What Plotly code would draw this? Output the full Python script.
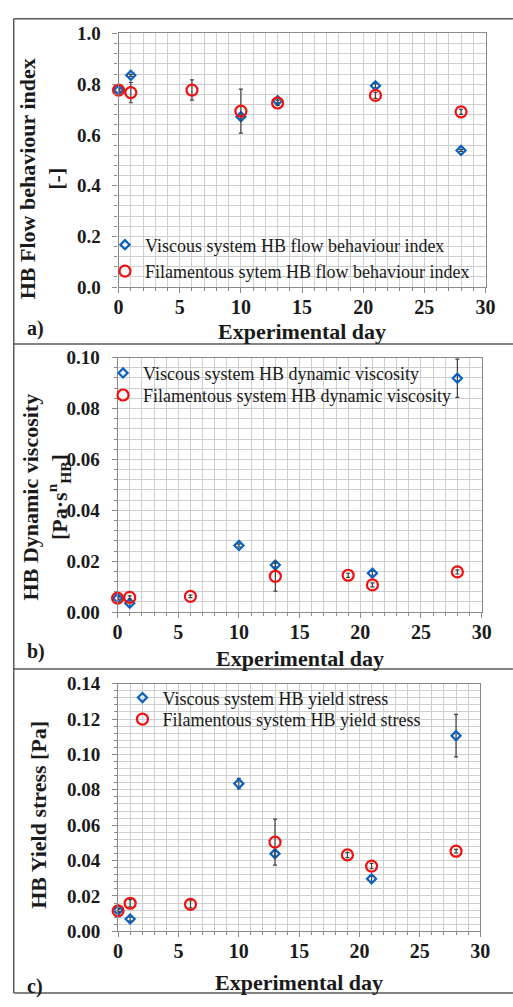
import plotly.graph_objects as go

# ---------------- data ----------------
# a) Herschel-Bulkley flow behaviour index n [-]
days_n_visc = [0, 1, 10, 13, 21, 28]
n_visc = [0.777, 0.835, 0.672, 0.735, 0.794, 0.539]
n_visc_err = [0.004, 0.004, 0.006, 0.008, 0.008, 0.004]

days_n_fil = [0, 1, 6, 10, 13, 21, 28]
n_fil = [0.777, 0.767, 0.777, 0.694, 0.726, 0.756, 0.691]
n_fil_err = [0.005, 0.040, 0.040, 0.087, 0.010, 0.012, 0.010]

# b) HB dynamic viscosity K [Pa s^n]
days_k_visc = [0, 1, 10, 13, 21, 28]
k_visc = [0.0055, 0.0035, 0.0262, 0.0185, 0.0153, 0.0919]
k_visc_err = [0.0005, 0.0012, 0.0006, 0.0008, 0.0008, 0.0075]

days_k_fil = [0, 1, 6, 13, 19, 21, 28]
k_fil = [0.0055, 0.0058, 0.0062, 0.0141, 0.0145, 0.0107, 0.0158]
k_fil_err = [0.0004, 0.0006, 0.0005, 0.0058, 0.0008, 0.0008, 0.0008]

# c) HB yield stress [Pa]
days_t_visc = [0, 1, 10, 13, 21, 28]
tau_visc = [0.0120, 0.0070, 0.0835, 0.0439, 0.0297, 0.1106]
tau_visc_err = [0.0008, 0.0012, 0.0030, 0.0015, 0.0015, 0.0120]

days_t_fil = [0, 1, 6, 13, 19, 21, 28]
tau_fil = [0.0116, 0.0159, 0.0153, 0.0504, 0.0432, 0.0369, 0.0453]
tau_fil_err = [0.0010, 0.0020, 0.0020, 0.0130, 0.0015, 0.0015, 0.0010]

names_a = ["Viscous system HB flow behaviour index",
           "Filamentous sytem HB flow behaviour index"]
names_b = ["Viscous system HB dynamic viscosity",
           "Filamentous system HB dynamic viscosity"]
names_c = ["Viscous system HB yield stress",
           "Filamentous system HB yield stress"]

# ---------------- styling ----------------
W, H = 513, 1007
FONT = "Liberation Serif, Times New Roman, serif"
TXT = "#1a1a1a"
BLUE = "#0a62be"
RED = "#f01010"
ERR = "#3f3f3f"
GRID = "#cfcfcf"
AXLINE = "#8a8a8a"


def fx(p):
    return p / W


def fy(p):
    return 1 - p / H


fig = go.Figure()

panels = [
    dict(ax="", xpx=(117, 495), ypx=(24, 283), yr=[0, 1.0], dt=0.2, fmt=".1f",
         legends=("legend", "legend2"), names=names_a,
         leg_pos=[(103, 240), (103, 267)],
         v=(days_n_visc, n_visc, n_visc_err), f=(days_n_fil, n_fil, n_fil_err)),
    dict(ax="2", xpx=(116, 491), ypx=(355, 615), yr=[0, 0.10], dt=0.02, fmt=".2f",
         legends=("legend3", "legend4"), names=names_b,
         leg_pos=[(101, 371), (101, 393.5)],
         v=(days_k_visc, k_visc, k_visc_err), f=(days_k_fil, k_fil, k_fil_err)),
    dict(ax="3", xpx=(116.5, 489.5), ypx=(688, 941), yr=[0, 0.14], dt=0.02, fmt=".2f",
         legends=("legend5", "legend6"), names=names_c,
         leg_pos=[(121, 702.5), (121, 724.5)],
         v=(days_t_visc, tau_visc, tau_visc_err), f=(days_t_fil, tau_fil, tau_fil_err)),
]

legend_layout = {}
for p in panels:
    xa = "x" + p["ax"]
    ya = "y" + p["ax"]
    dv, yv, ev = p["v"]
    df, yf, ef = p["f"]
    fig.add_trace(go.Scatter(
        x=dv, y=yv, mode="markers", name=p["names"][0], xaxis=xa, yaxis=ya,
        legend=p["legends"][0], cliponaxis=False,
        marker=dict(symbol="diamond-open", size=7, color=BLUE, line=dict(width=2.2, color=BLUE)),
        error_y=dict(type="data", array=ev, visible=True, color=ERR, thickness=1.2, width=2),
    ))
    fig.add_trace(go.Scatter(
        x=df, y=yf, mode="markers", name=p["names"][1], xaxis=xa, yaxis=ya,
        legend=p["legends"][1], cliponaxis=False,
        marker=dict(symbol="circle-open", size=11, color=RED, line=dict(width=2.2, color=RED)),
        error_y=dict(type="data", array=ef, visible=True, color=ERR, thickness=1.2, width=2),
    ))
    for lg, (lx, ly) in zip(p["legends"], p["leg_pos"]):
        legend_layout[lg] = dict(
            x=fx(lx), y=fy(ly), xanchor="left", yanchor="middle",
            bgcolor="rgba(0,0,0,0)", borderwidth=0, itemwidth=30,
            font=dict(family=FONT, size=18, color=TXT),
        )

    x0, x1 = p["xpx"]
    yt, yb = p["ypx"]
    fig.update_layout(**{
        "xaxis" + p["ax"]: dict(
            domain=[fx(x0), fx(x1)], range=[0, 30], anchor=ya,
            dtick=5, tick0=0, ticks="outside", ticklen=5, tickcolor=AXLINE,
            showline=True, linecolor=AXLINE, linewidth=1.2, mirror=True,
            showgrid=True, gridcolor=GRID, gridwidth=1, zeroline=False,
            minor=dict(dtick=1, showgrid=True, gridcolor=GRID, ticks="outside",
                       ticklen=3, tickcolor=AXLINE),
            tickfont=dict(family=FONT, size=20, color=TXT, weight="bold"),
            ticklabelstandoff=-3,
        ),
        "yaxis" + p["ax"]: dict(
            domain=[fy(yb), fy(yt)], range=p["yr"], anchor=xa,
            dtick=p["dt"], tick0=0, tickformat=p["fmt"],
            ticks="outside", ticklen=5, tickcolor=AXLINE,
            showline=True, linecolor=AXLINE, linewidth=1.2, mirror=True,
            showgrid=True, gridcolor=GRID, gridwidth=1, zeroline=False,
            minor=dict(dtick=p["dt"] / 5, showgrid=True, gridcolor=GRID,
                       ticks="outside", ticklen=3, tickcolor=AXLINE),
            tickfont=dict(family=FONT, size=19, color=TXT, weight="bold"),
            ticklabelstandoff=8,
        ),
    })

fig.update_layout(**legend_layout)

shapes = []
# white panels behind the legends (above the grid, below the markers)
for (l, t, r, b) in [(118.5, 226, 470, 282), (117, 356, 448, 401), (118, 689, 443, 741)]:
    shapes.append(dict(type="rect", xref="paper", yref="paper", layer="between",
                       x0=fx(l), x1=fx(r), y0=fy(b), y1=fy(t),
                       fillcolor="white", line=dict(width=0)))
# frames around the three panels
FRAME = "#5a5a5a"
shapes.append(dict(type="line", xref="paper", yref="paper", x0=fx(9), x1=fx(9),
                   y0=fy(9), y1=fy(1004), line=dict(color=FRAME, width=1.5)))
for yy in (9, 341, 673, 1004):
    shapes.append(dict(type="line", xref="paper", yref="paper", x0=fx(9), x1=1.02,
                       y0=fy(yy), y1=fy(yy), line=dict(color=FRAME, width=1.5)))

annotations = []
title_font = dict(family=FONT, size=22, color=TXT, weight="bold")
letter_font = dict(family=FONT, size=20, color=TXT, weight="bold")
# y-axis titles
annotations.append(dict(text="HB Flow behaviour index<br>[-]", x=fx(39), y=fy(172),
                        xref="paper", yref="paper", textangle=-90, showarrow=False,
                        font=title_font, xanchor="center", yanchor="middle"))
annotations.append(dict(text="HB Dynamic viscosity<br>[Pa·s<sup>n</sup><sub>HB</sub>]",
                        x=fx(42), y=fy(497), xref="paper", yref="paper", textangle=-90,
                        showarrow=False, font=title_font, xanchor="center", yanchor="middle"))
annotations.append(dict(text="HB Yield stress [Pa]", x=fx(35), y=fy(822),
                        xref="paper", yref="paper", textangle=-90, showarrow=False,
                        font=title_font, xanchor="center", yanchor="middle"))
# x-axis titles
for (cx, cy) in [(306, 328), (304, 662), (303, 993)]:
    annotations.append(dict(text="Experimental day", x=fx(cx), y=fy(cy), xref="paper",
                            yref="paper", showarrow=False, font=title_font,
                            xanchor="center", yanchor="middle"))
# panel letters
for (lab, cy) in [("a)", 325), ("b)", 655), ("c)", 997)]:
    annotations.append(dict(text=lab, x=fx(21), y=fy(cy), xref="paper", yref="paper",
                            showarrow=False, font=letter_font, xanchor="left",
                            yanchor="middle"))

fig.update_layout(
    width=W, height=H, margin=dict(l=0, r=0, t=0, b=0),
    paper_bgcolor="white", plot_bgcolor="white",
    shapes=shapes, annotations=annotations, showlegend=True,
)

fig.write_html("out.html")
